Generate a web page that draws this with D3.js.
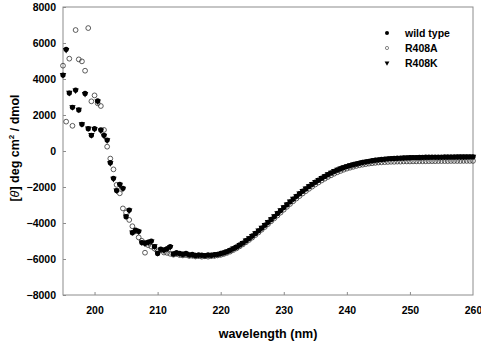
<!DOCTYPE html>
<html>
<head>
<meta charset="utf-8">
<script src="https://cdn.jsdelivr.net/npm/d3@7/dist/d3.min.js"></script>
<style>
  body { margin: 0; background: #fff; }
  text { font-family: "Liberation Sans", Arial, sans-serif; font-weight: bold; fill: #000; }
</style>
</head>
<body>
<div id="chart-area"></div>
<script>
let margin = { left: 63, right: 8, top: 7, bottom: 51 };
let width = 481 - margin.left - margin.right,
	height = 346 - margin.top - margin.bottom;

// wavelength grid (nm)
let wavelength = [
	195, 195.5, 196, 196.5, 197, 197.5, 198, 198.5, 199, 199.5,
	200, 200.5, 201, 201.5, 202, 202.5, 203, 203.5, 204, 204.5,
	205, 205.5, 206, 206.5, 207, 207.5, 208, 208.5, 209, 209.5,
	210, 210.5, 211, 211.5, 212, 212.5, 213, 213.5, 214, 214.5,
	215, 215.5, 216, 216.5, 217, 217.5, 218, 218.5, 219, 219.5,
	220, 220.5, 221, 221.5, 222, 222.5, 223, 223.5, 224, 224.5,
	225, 225.5, 226, 226.5, 227, 227.5, 228, 228.5, 229, 229.5,
	230, 230.5, 231, 231.5, 232, 232.5, 233, 233.5, 234, 234.5,
	235, 235.5, 236, 236.5, 237, 237.5, 238, 238.5, 239, 239.5,
	240, 240.5, 241, 241.5, 242, 242.5, 243, 243.5, 244, 244.5,
	245, 245.5, 246, 246.5, 247, 247.5, 248, 248.5, 249, 249.5,
	250, 250.5, 251, 251.5, 252, 252.5, 253, 253.5, 254, 254.5,
	255, 255.5, 256, 256.5, 257, 257.5, 258, 258.5, 259, 259.5,
	260
];

let wildType = [
	4220, 5650, 3220, 2430, 3390, 2280, 1480, 3200, 1240, 870,
	1240, 2780, 1170, 870, 610, -650, -1520, -2200, -1850, -2070,
	-3650, -3280, -4540, -4390, -4460, -5090, -5120, -5060, -5000, -5310,
	-5690, -5450, -5500, -5420, -5310, -5720, -5640, -5690, -5730, -5680,
	-5770, -5740, -5800, -5770, -5790, -5810, -5770, -5790, -5750, -5740,
	-5690, -5650, -5590, -5510, -5420, -5330, -5220, -5110, -4980, -4860,
	-4720, -4580, -4430, -4280, -4120, -3960, -3800, -3640, -3470, -3310,
	-3140, -2980, -2820, -2670, -2520, -2370, -2230, -2100, -1970, -1850,
	-1730, -1620, -1510, -1410, -1310, -1220, -1130, -1050, -980, -920,
	-860, -810, -760, -710, -670, -630, -600, -570, -540, -510,
	-490, -470, -450, -430, -420, -410, -400, -390, -380, -375,
	-370, -360, -360, -355, -350, -345, -345, -340, -340, -335,
	-335, -330, -330, -330, -330, -325, -325, -325, -325, -320,
	-320
];

let r408A = [
	4740, 1630, 5130, 1400, 6720, 5090, 4980, 4460, 6830, 2760,
	3090, 2650, 2500, 1170, 240, -420, -1020, -1880, -2350, -3190,
	-3420, -3830, -4180, -4460, -4800, -4990, -5650, -5230, -5310, -5420,
	-5580, -5520, -5640, -5660, -5710, -5760, -5720, -5780, -5800, -5780,
	-5830, -5820, -5860, -5840, -5870, -5850, -5870, -5840, -5830, -5800,
	-5770, -5720, -5660, -5590, -5500, -5410, -5300, -5190, -5070, -4940,
	-4810, -4670, -4520, -4370, -4220, -4060, -3900, -3740, -3580, -3420,
	-3260, -3100, -2940, -2790, -2640, -2500, -2360, -2230, -2100, -1980,
	-1860, -1750, -1640, -1540, -1440, -1350, -1260, -1180, -1110, -1040,
	-980, -930, -880, -830, -790, -760, -730, -700, -680, -660,
	-640, -630, -620, -610, -600, -600, -590, -590, -580, -580,
	-580, -575, -575, -570, -570, -570, -565, -565, -565, -560,
	-560, -560, -560, -555, -555, -555, -555, -550, -550, -550,
	-550
];

let r408K = [
	4230, 5620, 3240, 2440, 3370, 2300, 1500, 3180, 1260, 890,
	1230, 2760, 1150, 860, 600, -670, -1540, -2180, -1870, -2090,
	-3630, -3300, -4520, -4410, -4480, -5070, -5140, -5080, -5020, -5290,
	-5670, -5470, -5520, -5440, -5330, -5700, -5660, -5700, -5740, -5700,
	-5760, -5760, -5790, -5780, -5780, -5800, -5780, -5780, -5760, -5730,
	-5700, -5640, -5580, -5500, -5410, -5320, -5210, -5100, -4970, -4840,
	-4710, -4560, -4410, -4260, -4100, -3940, -3780, -3620, -3450, -3290,
	-3120, -2960, -2800, -2650, -2500, -2350, -2210, -2080, -1950, -1830,
	-1710, -1600, -1490, -1390, -1290, -1200, -1110, -1030, -960, -900,
	-840, -790, -740, -700, -660, -620, -590, -560, -530, -500,
	-480, -460, -440, -420, -410, -400, -390, -380, -370, -365,
	-360, -355, -350, -345, -340, -340, -335, -335, -330, -330,
	-325, -325, -320, -320, -320, -315, -315, -315, -310, -310,
	-310
];

let seriesNames = ["wild type", "R408A", "R408K"];
let xTicks = [200, 210, 220, 230, 240, 250, 260];
let yTicks = [-8000, -6000, -4000, -2000, 0, 2000, 4000, 6000, 8000];

let svg = d3.select("#chart-area")
	.append("svg")
	.attr("width", 481)
	.attr("height", 346);

let g = svg.append("g")
	.attr("transform", "translate(" + margin.left + "," + margin.top + ")");

// Scales
let x = d3.scaleLinear()
	.domain([195, 260])
	.range([0, width]);

let y = d3.scaleLinear()
	.domain([-8000, 8000])
	.range([height, 0]);

let frameColor = "#8c8c8c";

// X Axis
let xAxisCall = d3.axisBottom(x)
	.tickValues(xTicks)
	.tickSizeInner(-3)
	.tickSizeOuter(0)
	.tickPadding(12)
	.tickFormat(d3.format("d"));
let xAxis = g.append("g")
	.attr("transform", "translate(0," + height + ")")
	.call(xAxisCall);

// Y Axis
let yAxisCall = d3.axisLeft(y)
	.tickValues(yTicks)
	.tickSizeInner(-3)
	.tickSizeOuter(0)
	.tickPadding(7)
	.tickFormat(d3.format("d"));
let yAxis = g.append("g")
	.call(yAxisCall);

[xAxis, yAxis].forEach((ax) => {
	ax.select(".domain").remove();
	ax.selectAll(".tick line").attr("stroke", frameColor);
	ax.selectAll(".tick text")
		.attr("font-size", "10.5px")
		.attr("font-family", "Liberation Sans, Arial, sans-serif")
		.attr("font-weight", "bold");
});
xAxis.selectAll(".tick").filter((d) => d === 260).select("line").remove();

// Frame
g.append("rect")
	.attr("width", width)
	.attr("height", height)
	.attr("fill", "none")
	.attr("stroke", frameColor)
	.attr("stroke-width", 1);

// Data points
let triangle = d3.symbol().type(d3.symbolTriangle).size(18);

let pointsK = wavelength.map((w, i) => ({ w: w, v: r408K[i] }));
let pointsA = wavelength.map((w, i) => ({ w: w, v: r408A[i] }));
let pointsWT = wavelength.map((w, i) => ({ w: w, v: wildType[i] }));

g.append("g").selectAll("path")
	.data(pointsK)
	.enter()
	.append("path")
	.attr("d", triangle)
	.attr("fill", "#000")
	.attr("transform", (d) => "translate(" + x(d.w) + "," + y(d.v) + ") rotate(180)");

g.append("g").selectAll("circle")
	.data(pointsA)
	.enter()
	.append("circle")
	.attr("cx", (d) => x(d.w))
	.attr("cy", (d) => y(d.v))
	.attr("r", 2.4)
	.attr("fill", "none")
	.attr("stroke", "#333")
	.attr("stroke-width", 0.8);

g.append("g").selectAll("circle")
	.data(pointsWT)
	.enter()
	.append("circle")
	.attr("cx", (d) => x(d.w))
	.attr("cy", (d) => y(d.v))
	.attr("r", 2.6)
	.attr("fill", "#000");

// Legend
let legend = svg.append("g")
	.attr("transform", "translate(387,33)");

seriesNames.forEach((name, i) => {
	let row = legend.append("g")
		.attr("transform", "translate(0," + (i * 15) + ")");
	if (i === 0) {
		row.append("circle").attr("r", 2).attr("fill", "#000");
	} else if (i === 1) {
		row.append("circle").attr("r", 1.6).attr("fill", "none")
			.attr("stroke", "#555").attr("stroke-width", 0.7);
	} else {
		row.append("path")
			.attr("d", d3.symbol().type(d3.symbolTriangle).size(10))
			.attr("transform", "rotate(180)")
			.attr("fill", "#000");
	}
	row.append("text")
		.attr("x", 18)
		.attr("y", 4)
		.attr("font-size", "10.5px")
		.text(name);
});

// Labels
svg.append("text")
	.attr("x", 268)
	.attr("y", 338)
	.attr("font-size", "12.5px")
	.attr("text-anchor", "middle")
	.text("wavelength (nm)");

let yLabel = svg.append("text")
	.attr("transform", "translate(19,148) rotate(-90)")
	.attr("font-size", "12.5px")
	.attr("text-anchor", "middle");
yLabel.append("tspan").text("[");
yLabel.append("tspan").attr("font-style", "italic").attr("font-weight", "normal").text("θ");
yLabel.append("tspan").text("] deg cm");
yLabel.append("tspan").attr("font-size", "8px").attr("dy", -5).text("2");
yLabel.append("tspan").attr("dy", 5).text(" / dmol");
</script>
</body>
</html>
